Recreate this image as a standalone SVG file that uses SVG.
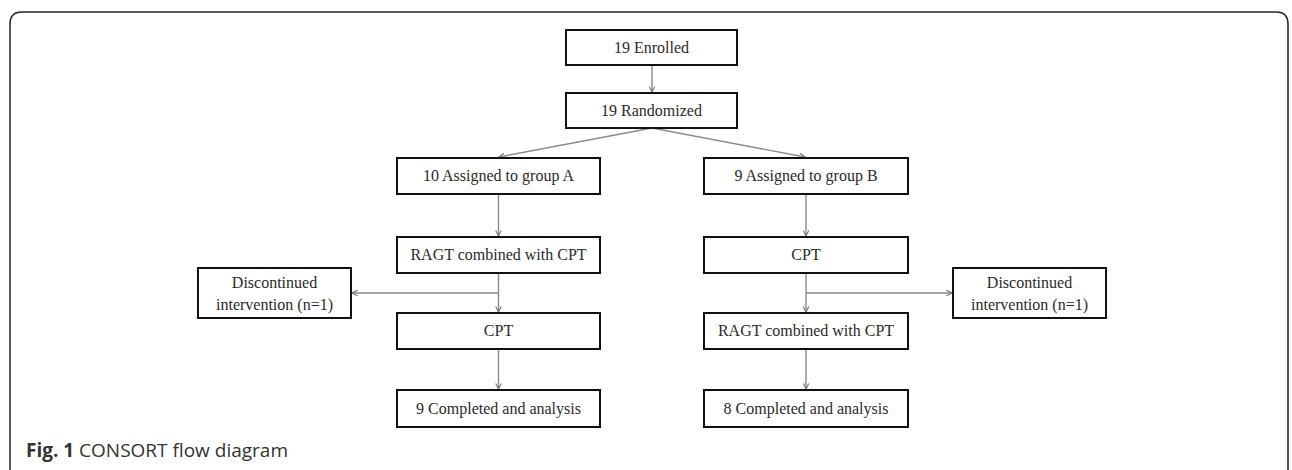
<svg xmlns="http://www.w3.org/2000/svg" width="1292" height="470" viewBox="0 0 1292 470">
<style>
.box{fill:#fff;stroke:#111;stroke-width:2}
.t{font-family:"Liberation Serif","Times New Roman",serif;font-size:16px;fill:#2a2a2a;text-anchor:middle}
.c{fill:none;stroke:#8a8a8a;stroke-width:1.4}
.frame{fill:none;stroke:#222;stroke-width:1.5}
.cap{font-family:"Open Sans","Noto Sans",sans-serif;font-size:19px;fill:#333}
</style>
<defs>
<marker id="ah" viewBox="0 0 10 10" refX="9" refY="5" markerWidth="7" markerHeight="7" markerUnits="userSpaceOnUse" orient="auto">
<path d="M1,1 L9,5 L1,9" fill="none" stroke="#777" stroke-width="1.6"/>
</marker>
</defs>
<rect width="1292" height="470" fill="#fff"/>
<path class="frame" d="M10,480 V24 Q10,12 22,12 H1276 Q1288,12 1288,24 V480"/>
<g id="connectors">
<line class="c" x1="652" y1="65" x2="652" y2="92" marker-end="url(#ah)"/>
<line class="c" x1="652" y1="128" x2="499" y2="157" marker-end="url(#ah)"/>
<line class="c" x1="652" y1="128" x2="805" y2="157" marker-end="url(#ah)"/>
<line class="c" x1="498.5" y1="194" x2="498.5" y2="236" marker-end="url(#ah)"/>
<line class="c" x1="806" y1="194" x2="806" y2="236" marker-end="url(#ah)"/>
<line class="c" x1="498.5" y1="273" x2="498.5" y2="312" marker-end="url(#ah)"/>
<line class="c" x1="806" y1="273" x2="806" y2="312" marker-end="url(#ah)"/>
<line class="c" x1="498.5" y1="293" x2="352" y2="293" marker-end="url(#ah)"/>
<line class="c" x1="806" y1="293" x2="952" y2="293" marker-end="url(#ah)"/>
<line class="c" x1="498.5" y1="349" x2="498.5" y2="389" marker-end="url(#ah)"/>
<line class="c" x1="806" y1="349" x2="806" y2="389" marker-end="url(#ah)"/>
</g>
<g id="enrolled"><rect class="box" x="566" y="30" width="171" height="35"/><text class="t" x="651.5" y="53">19 Enrolled</text></g>
<g id="randomized"><rect class="box" x="566" y="93" width="171" height="35"/><text class="t" x="651.5" y="116">19 Randomized</text></g>
<g id="groupA"><rect class="box" x="397" y="158" width="203" height="36"/><text class="t" x="498.5" y="181">10 Assigned to group A</text></g>
<g id="groupB"><rect class="box" x="704" y="158" width="204" height="36"/><text class="t" x="806" y="181">9 Assigned to group B</text></g>
<g id="ragtA"><rect class="box" x="397" y="237" width="203" height="36"/><text class="t" x="498.5" y="260">RAGT combined with CPT</text></g>
<g id="cptB"><rect class="box" x="704" y="237" width="204" height="36"/><text class="t" x="806" y="260">CPT</text></g>
<g id="discA"><rect class="box" x="198" y="268" width="153" height="50"/><text class="t" x="274.5" y="288">Discontinued</text><text class="t" x="274.5" y="310">intervention (n=1)</text></g>
<g id="discB"><rect class="box" x="953" y="268" width="153" height="50"/><text class="t" x="1029.5" y="288">Discontinued</text><text class="t" x="1029.5" y="310">intervention (n=1)</text></g>
<g id="cptA"><rect class="box" x="397" y="313" width="203" height="36"/><text class="t" x="498.5" y="336">CPT</text></g>
<g id="ragtB"><rect class="box" x="704" y="313" width="204" height="36"/><text class="t" x="806" y="336">RAGT combined with CPT</text></g>
<g id="completedA"><rect class="box" x="397" y="390" width="203" height="37"/><text class="t" x="498.5" y="414">9 Completed and analysis</text></g>
<g id="completedB"><rect class="box" x="704" y="390" width="204" height="37"/><text class="t" x="806" y="414">8 Completed and analysis</text></g>
<text class="cap" x="26" y="457"><tspan font-weight="bold">Fig. 1</tspan> CONSORT flow diagram</text>
</svg>
